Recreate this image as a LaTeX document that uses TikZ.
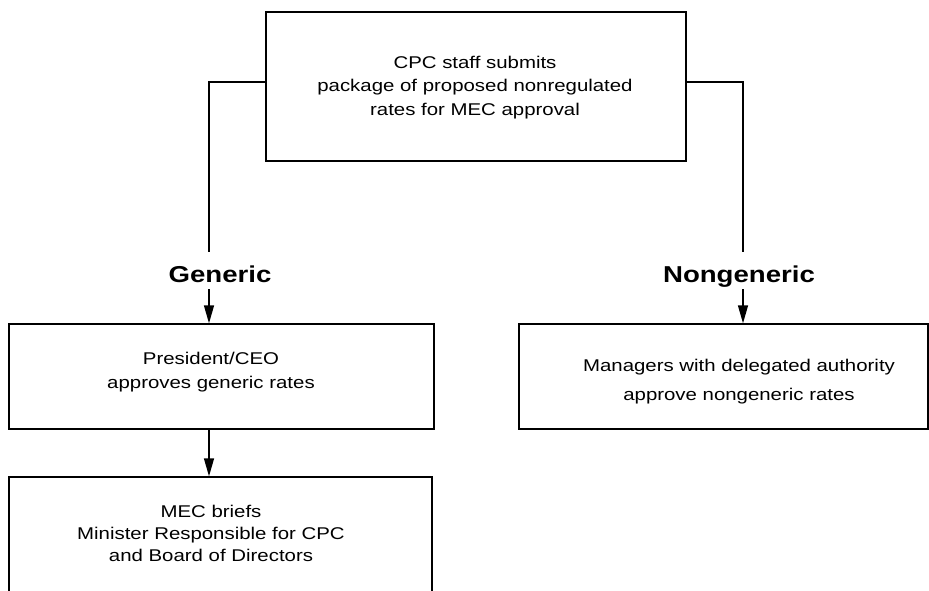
\documentclass[tikz,border=0pt]{standalone}
\usepackage{fontspec}
\setmainfont[FakeStretch=1.2]{Liberation Sans}
\usetikzlibrary{arrows.meta}
\begin{document}
\begin{tikzpicture}[x=1pt,y=-1pt,
  box/.style={draw,line width=1.4pt,rectangle,inner sep=0pt},
  txt/.style={align=center,inner sep=0pt,anchor=base},
  lbl/.style={font=\bfseries\fontsize{23}{27}\selectfont,inner sep=0pt,anchor=base},
  conn/.style={line width=1.4pt},
  arr/.style={line width=1.4pt,-{Triangle[length=18pt,width=10pt]}}]
\fill[white] (0,0) rectangle (929,590);
\useasboundingbox (0,0) rectangle (929,590);
\clip (0,0) rectangle (929,590);
% boxes
\node[box,minimum width=420pt,minimum height=149pt] (top) at (476,86.5) {};
\node[box,minimum width=425pt,minimum height=105pt] (b2) at (221.5,376.5) {};
\node[box,minimum width=423pt,minimum height=140pt] (b3) at (220.5,547) {};
\node[box,minimum width=409pt,minimum height=105pt] (b4) at (723.5,376.5) {};
% texts (anchor = baseline of the last line)
\node[txt,font=\fontsize{17}{23.5}\selectfont] (ttop) at (475,115) {CPC staff submits\\package of proposed nonregulated\\rates for MEC approval};
\node[txt,font=\fontsize{17}{24}\selectfont] (tb2) at (211,388) {President/CEO\\approves generic rates};
\node[txt,font=\fontsize{17}{22}\selectfont] (tb3) at (211,561.5) {MEC briefs\\Minister Responsible for CPC\\and Board of Directors};
\node[txt,font=\fontsize{17}{29}\selectfont] (tb4) at (739,400) {Managers with delegated authority\\approve nongeneric rates};
% labels
\node[lbl] (gen) at (220,282) {Generic};
\node[lbl] (ngen) at (739,282) {Nongeneric};
% connector points
\coordinate (lend) at (209,252);
\coordinate (lstart) at (209,289);
\coordinate (rend) at (743,252);
\coordinate (rstart) at (743,289);
% connectors
\draw[conn] ([yshift=4.5pt]top.west) -| (lend);
\draw[conn] ([yshift=4.5pt]top.east) -| (rend);
\draw[arr] (lstart) -- (lstart |- b2.north);
\draw[arr] (rstart) -- (rstart |- b4.north);
\draw[arr] (lend |- b2.south) -- (lend |- b3.north);
\end{tikzpicture}
\end{document}
